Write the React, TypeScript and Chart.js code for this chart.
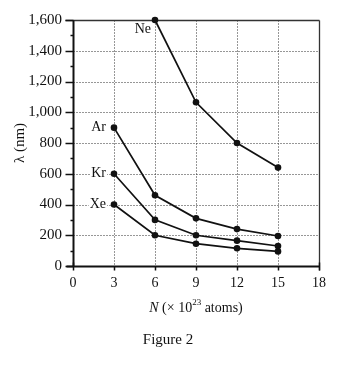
import React, { useEffect, useRef } from "react";
import { Chart, registerables } from "chart.js";

Chart.register(...registerables);

// ---- data ----
const seriesNames = ["Ne", "Ar", "Kr", "Xe"];
const neN = [6, 9, 12, 15];
const neLambda = [1600, 1065, 800, 640];
const nValues = [3, 6, 9, 12, 15];
const arLambda = [900, 460, 310, 240, 195];
const krLambda = [600, 300, 200, 165, 130];
const xeLambda = [400, 200, 145, 115, 95];
const xTicks = [0, 3, 6, 9, 12, 15, 18];
const yTicks = [0, 200, 400, 600, 800, 1000, 1200, 1400, 1600];
const yTitle = "λ (nm)";
const xTitleParts = ["N", " (× 10", "23", " atoms)"];
const caption = "Figure 2";

const SERIF = "'Liberation Serif', 'Times New Roman', serif";
const INK = "#111111";

const decor = {
  id: "decor",
  beforeDatasetsDraw(chart: any) {
    const { ctx } = chart;
    const x = chart.scales.x;
    const y = chart.scales.y;
    const xMin = xTicks[0];
    const xMax = xTicks[xTicks.length - 1];
    const yMin = yTicks[0];
    const yMax = yTicks[yTicks.length - 1];
    const x0 = Math.round(x.getPixelForValue(xMin)) + 0.5;
    const x1 = Math.round(x.getPixelForValue(xMax)) + 0.5;
    const y0 = Math.round(y.getPixelForValue(yMin)) + 0.5;
    const y1 = Math.round(y.getPixelForValue(yMax)) + 0.5;
    ctx.save();
    // dotted grid
    ctx.strokeStyle = "#2e2e2e";
    ctx.lineWidth = 1;
    ctx.setLineDash([1, 2]);
    yTicks.forEach((v) => {
      if (v === yMin || v === yMax) return;
      const py = Math.round(y.getPixelForValue(v)) + 0.5;
      ctx.beginPath();
      ctx.moveTo(x0, py);
      ctx.lineTo(x1, py);
      ctx.stroke();
    });
    xTicks.forEach((v) => {
      if (v === xMin || v === xMax) return;
      const px = Math.round(x.getPixelForValue(v)) + 0.5;
      ctx.beginPath();
      ctx.moveTo(px, y1);
      ctx.lineTo(px, y0);
      ctx.stroke();
    });
    ctx.setLineDash([]);
    // top and right borders
    ctx.strokeStyle = "#333";
    ctx.lineWidth = 1.3;
    ctx.beginPath();
    ctx.moveTo(x0 - 8, y1);
    ctx.lineTo(x1, y1);
    ctx.moveTo(x1, y1);
    ctx.lineTo(x1, y0 + 4);
    ctx.stroke();
    // left axis
    ctx.strokeStyle = INK;
    ctx.lineWidth = 2;
    ctx.beginPath();
    ctx.moveTo(x0, y1);
    ctx.lineTo(x0, y0);
    ctx.stroke();
    ctx.lineWidth = 1.5;
    ctx.beginPath();
    yTicks.forEach((v, i) => {
      const py = Math.round(y.getPixelForValue(v)) + 0.5;
      ctx.moveTo(x0 - 8, py);
      ctx.lineTo(x0, py);
      if (i < yTicks.length - 1) {
        const pm = Math.round(y.getPixelForValue((v + yTicks[i + 1]) / 2)) + 0.5;
        ctx.moveTo(x0 - 3, pm);
        ctx.lineTo(x0, pm);
      }
    });
    ctx.stroke();
    // bottom axis
    ctx.lineWidth = 2;
    ctx.beginPath();
    ctx.moveTo(x0 - 7, y0);
    ctx.lineTo(x1, y0);
    ctx.stroke();
    ctx.lineWidth = 1.5;
    ctx.beginPath();
    xTicks.forEach((v) => {
      const px = Math.round(x.getPixelForValue(v)) + 0.5;
      const up = v === xMin || v === xMax ? 4 : 0;
      ctx.moveTo(px, y0 - up);
      ctx.lineTo(px, y0 + 4);
    });
    ctx.stroke();
    ctx.restore();
  },
  afterDatasetsDraw(chart: any) {
    const { ctx } = chart;
    ctx.save();
    ctx.font = `14px ${SERIF}`;
    ctx.textBaseline = "middle";
    ctx.textAlign = "right";
    chart.data.datasets.forEach((ds: any, i: number) => {
      const meta = chart.getDatasetMeta(i);
      const pt = meta.data[0];
      const off = ds.labelOffset;
      const tx = pt.x + off[0];
      const ty = pt.y + off[1];
      const w = ctx.measureText(ds.label).width;
      ctx.fillStyle = "#fff";
      ctx.fillRect(tx - w - 1, ty - 6, w + 2, 12);
      ctx.fillStyle = INK;
      ctx.fillText(ds.label, tx, ty);
    });
    ctx.restore();
  },
  afterDraw(chart: any) {
    const { ctx, chartArea } = chart;
    ctx.save();
    ctx.fillStyle = INK;
    ctx.textBaseline = "alphabetic";
    ctx.textAlign = "left";
    const main = `14px ${SERIF}`;
    const ital = `italic 14px ${SERIF}`;
    const sup = `9px ${SERIF}`;
    const fonts = [ital, main, sup, main];
    let total = 0;
    const widths = xTitleParts.map((p, i) => {
      ctx.font = fonts[i];
      const w = ctx.measureText(p).width;
      total += w;
      return w;
    });
    let cx = (chartArea.left + chartArea.right) / 2 - total / 2;
    const base = chartArea.bottom + 46;
    xTitleParts.forEach((p, i) => {
      ctx.font = fonts[i];
      ctx.fillText(p, cx, i === 2 ? base - 7 : base);
      cx += widths[i];
    });
    ctx.font = `15px ${SERIF}`;
    ctx.textAlign = "center";
    ctx.fillText(caption, chartArea.left + 95, chartArea.bottom + 78);
    ctx.restore();
  },
};

export default function App() {
  const ref = useRef<HTMLCanvasElement | null>(null);
  useEffect(() => {
    if (!ref.current) return;
    const mk = (label: string, xs: number[], ys: number[], labelOffset: number[]) => ({
      label,
      data: xs.map((v, i) => ({ x: v, y: ys[i] })),
      borderColor: INK,
      backgroundColor: INK,
      borderWidth: 1.7,
      pointRadius: 3.3,
      pointBorderWidth: 0,
      pointBackgroundColor: INK,
      tension: 0,
      clip: false,
      labelOffset,
    });
    const chart = new Chart(ref.current, {
      type: "line",
      data: {
        datasets: [
          mk(seriesNames[0], neN, neLambda, [-4, 9]),
          mk(seriesNames[1], nValues, arLambda, [-8, 0]),
          mk(seriesNames[2], nValues, krLambda, [-8, 0]),
          mk(seriesNames[3], nValues, xeLambda, [-8, 0]),
        ] as any,
      },
      options: {
        responsive: false,
        animation: false,
        layout: { padding: { left: 0, top: 20, right: 35, bottom: 76 } },
        plugins: { legend: { display: false }, tooltip: { enabled: false } },
        scales: {
          x: {
            type: "linear",
            min: 0,
            max: 18,
            afterBuildTicks: (s: any) => {
              s.ticks = xTicks.map((v) => ({ value: v }));
            },
            afterFit: (s: any) => {
              s.height = 30;
            },
            grid: { display: false, drawTicks: false },
            border: { display: false },
            ticks: {
              padding: 9,
              color: INK,
              font: { family: SERIF, size: 14 },
              maxRotation: 0,
            },
          },
          y: {
            type: "linear",
            min: 0,
            max: 1600,
            afterBuildTicks: (s: any) => {
              s.ticks = yTicks.map((v) => ({ value: v }));
            },
            afterFit: (s: any) => {
              s.width = 73;
            },
            grid: { display: false, drawTicks: false },
            border: { display: false },
            ticks: {
              padding: 11,
              color: INK,
              font: { family: SERIF, size: 15 },
              callback: (v: any) => Number(v).toLocaleString("en-US"),
            },
            title: {
              display: true,
              text: yTitle,
              color: INK,
              font: { family: SERIF, size: 15 },
              padding: { top: 11, bottom: 0 },
            },
          },
        },
      },
      plugins: [decor],
    });
    return () => chart.destroy();
  }, []);
  return (
    <div style={{ position: "absolute", left: 0, top: 0, width: 354, height: 372, background: "#fff" }}>
      <canvas ref={ref} width={354} height={372} />
    </div>
  );
}
